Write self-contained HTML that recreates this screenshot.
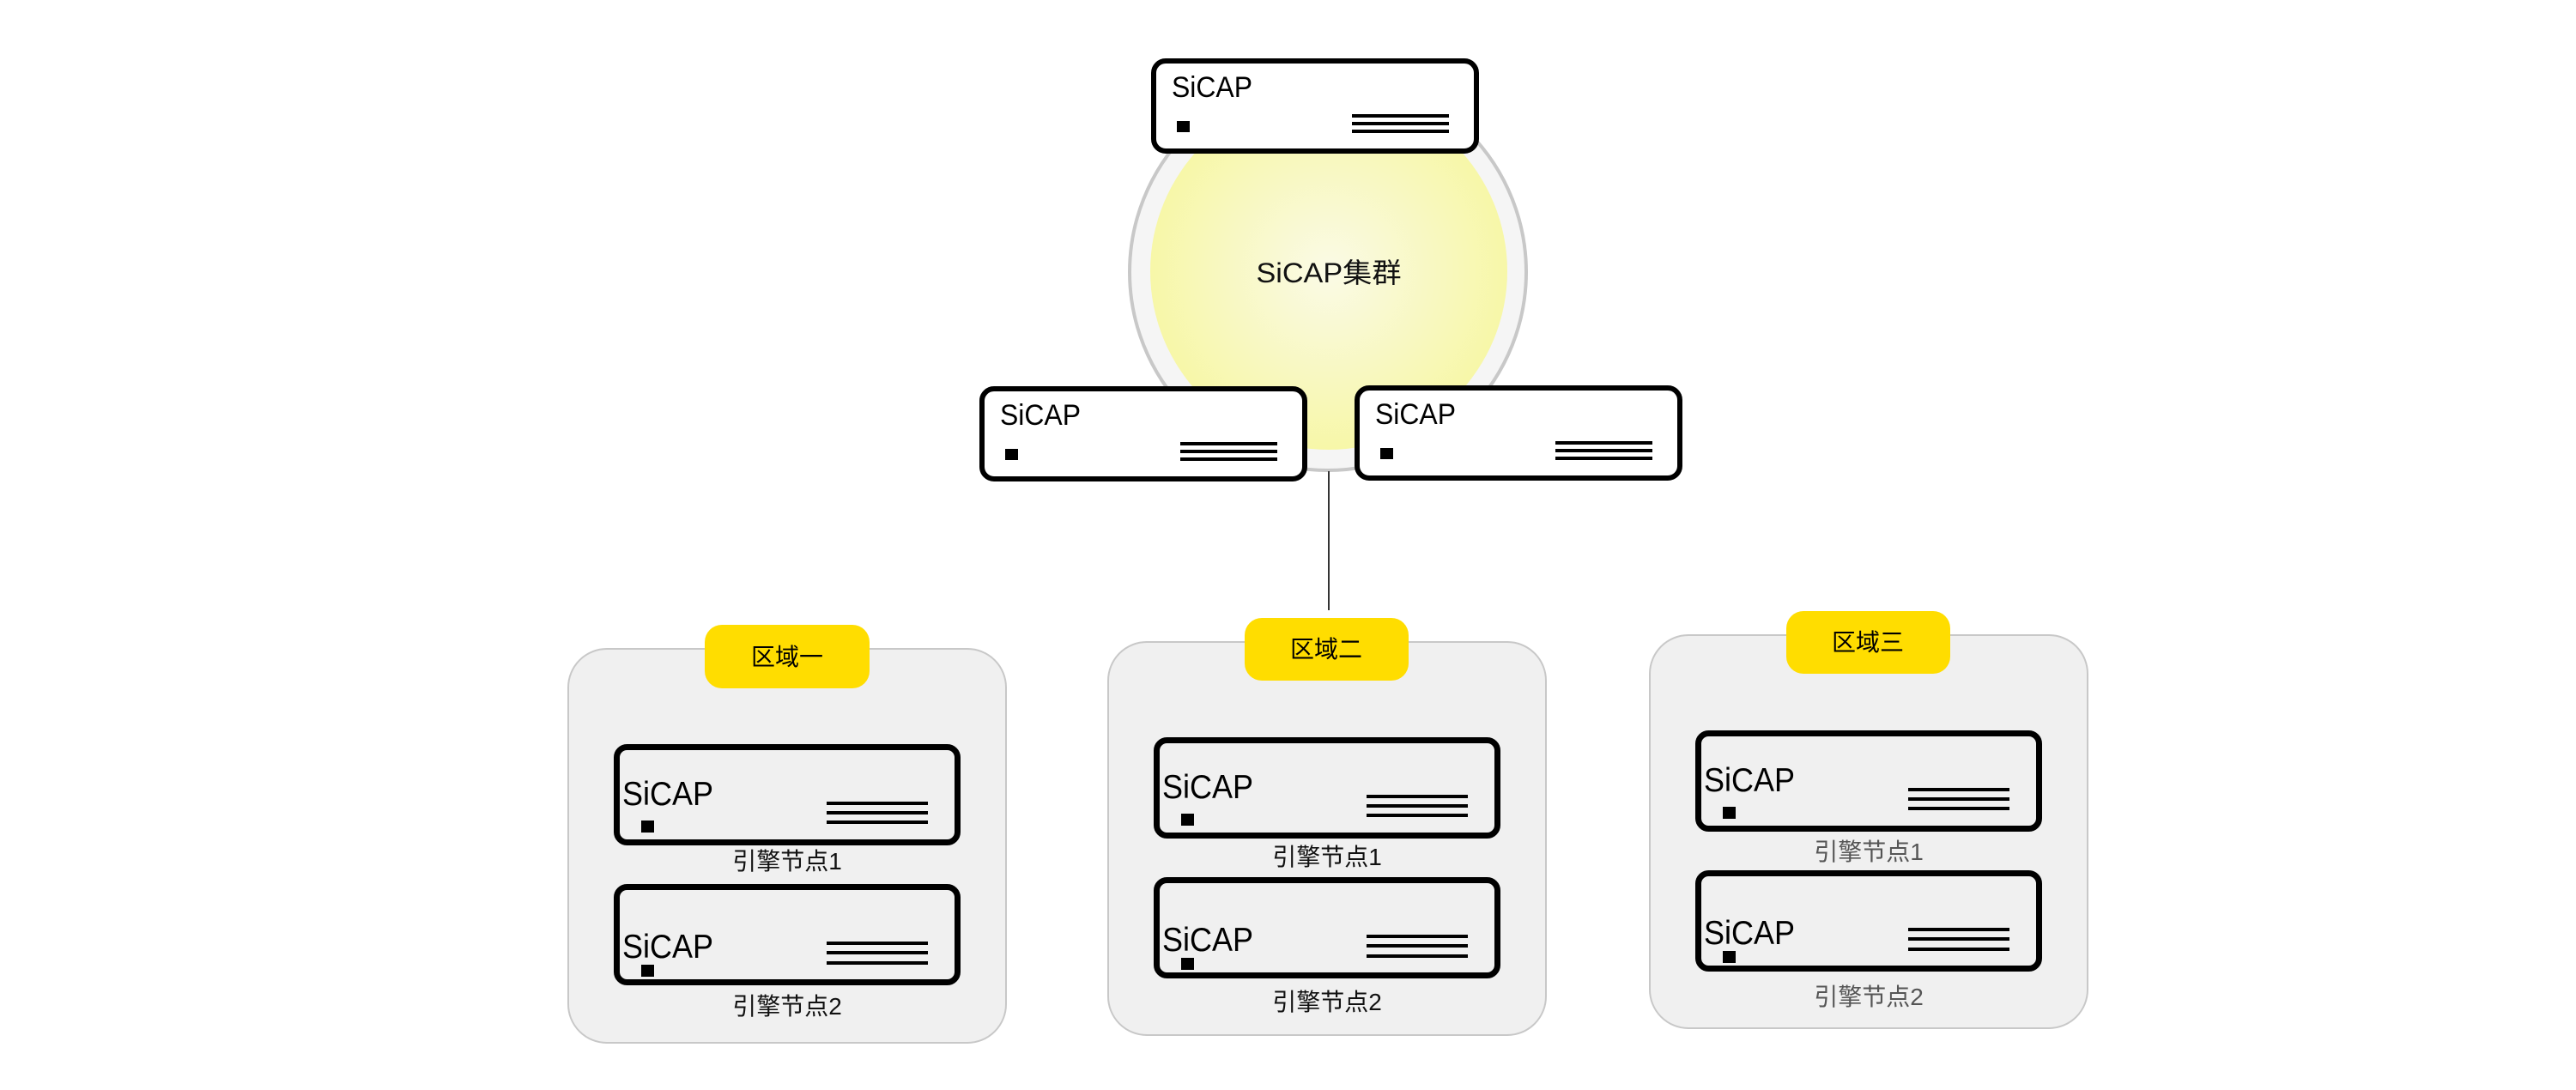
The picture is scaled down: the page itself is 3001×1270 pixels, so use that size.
<!DOCTYPE html>
<html><head><meta charset="utf-8"><style>
html,body{margin:0;padding:0;background:#fff;}
svg{display:block;}
text{font-family:"Liberation Sans","Noto Sans CJK SC",sans-serif;}
</style></head><body>
<svg width="3001" height="1270" viewBox="0 0 3001 1270" xmlns="http://www.w3.org/2000/svg">
<defs>
<radialGradient id="yg" cx="50%" cy="50%" r="50%">
<stop offset="0" stop-color="#fafae6"/>
<stop offset="1" stop-color="#f7f7a8"/>
</radialGradient>
<g id="tb">
<rect x="3" y="3" width="376" height="105" rx="14" fill="#fff" stroke="#000" stroke-width="6"/>
<text x="24" y="45" font-size="34" textLength="94" lengthAdjust="spacingAndGlyphs" fill="#000">SiCAP</text>
<rect x="30" y="73" width="15" height="13" fill="#000"/>
<rect x="234" y="65" width="113" height="4" fill="#000"/>
<rect x="234" y="74" width="113" height="4" fill="#000"/>
<rect x="234" y="83" width="113" height="4" fill="#000"/>
</g>
<g id="nb">
<rect x="3.5" y="3.5" width="397" height="111" rx="12" fill="none" stroke="#000" stroke-width="7"/>
<text x="10" y="71" font-size="39" textLength="106" lengthAdjust="spacingAndGlyphs" fill="#000">SiCAP</text>
<rect x="32" y="89" width="15" height="14" fill="#000"/>
<rect x="248" y="67" width="118" height="4" fill="#000"/>
<rect x="248" y="78" width="118" height="4" fill="#000"/>
<rect x="248" y="89" width="118" height="4" fill="#000"/>
</g>
<g id="nb2">
<rect x="3.5" y="3.5" width="397" height="111" rx="12" fill="none" stroke="#000" stroke-width="7"/>
<text x="10" y="86" font-size="39" textLength="106" lengthAdjust="spacingAndGlyphs" fill="#000">SiCAP</text>
<rect x="32" y="94" width="15" height="14" fill="#000"/>
<rect x="248" y="67" width="118" height="4" fill="#000"/>
<rect x="248" y="78" width="118" height="4" fill="#000"/>
<rect x="248" y="90" width="118" height="4" fill="#000"/>
</g>
</defs>
<rect width="3001" height="1270" fill="#fff"/>

<circle cx="1547" cy="317" r="231" fill="#f5f5f5" stroke="#c8c8c8" stroke-width="4"/>
<circle cx="1548" cy="316" r="208" fill="url(#yg)"/>
<text x="1548" y="329" font-size="32" text-anchor="middle" textLength="169" lengthAdjust="spacingAndGlyphs" fill="#111">SiCAP集群</text>

<line x1="1548" y1="549" x2="1548" y2="711" stroke="#333" stroke-width="2"/>

<use href="#tb" transform="translate(1341,68)"/>
<use href="#tb" transform="translate(1141,450)"/>
<use href="#tb" transform="translate(1578,449)"/>

<rect x="662" y="756" width="510" height="459" rx="45" fill="#f0f0f0" stroke="#c8c8c8" stroke-width="2"/>
<rect x="1291" y="748" width="510" height="458" rx="45" fill="#f0f0f0" stroke="#c8c8c8" stroke-width="2"/>
<rect x="1922" y="740" width="510" height="458" rx="45" fill="#f0f0f0" stroke="#c8c8c8" stroke-width="2"/>

<rect x="821" y="728" width="192" height="74" rx="20" fill="#ffdd00"/>
<text x="917" y="775" font-size="28" text-anchor="middle" fill="#000">区域一</text>
<rect x="1450" y="720" width="191" height="73" rx="20" fill="#ffdd00"/>
<text x="1545" y="766" font-size="28" text-anchor="middle" fill="#000">区域二</text>
<rect x="2081" y="712" width="191" height="73" rx="20" fill="#ffdd00"/>
<text x="2176" y="758" font-size="28" text-anchor="middle" fill="#000">区域三</text>

<use href="#nb" transform="translate(715,867)"/>
<use href="#nb2" transform="translate(715,1030)"/>
<use href="#nb" transform="translate(1344,859)"/>
<use href="#nb2" transform="translate(1344,1022)"/>
<use href="#nb" transform="translate(1975,851)"/>
<use href="#nb2" transform="translate(1975,1014)"/>

<text x="917" y="1013" font-size="28" text-anchor="middle" fill="#111">引擎节点1</text>
<text x="917" y="1182" font-size="28" text-anchor="middle" fill="#111">引擎节点2</text>
<text x="1546" y="1008" font-size="28" text-anchor="middle" fill="#111">引擎节点1</text>
<text x="1546" y="1177" font-size="28" text-anchor="middle" fill="#111">引擎节点2</text>
<text x="2177" y="1002" font-size="28" text-anchor="middle" fill="#555">引擎节点1</text>
<text x="2177" y="1171" font-size="28" text-anchor="middle" fill="#555">引擎节点2</text>
</svg>
</body></html>
